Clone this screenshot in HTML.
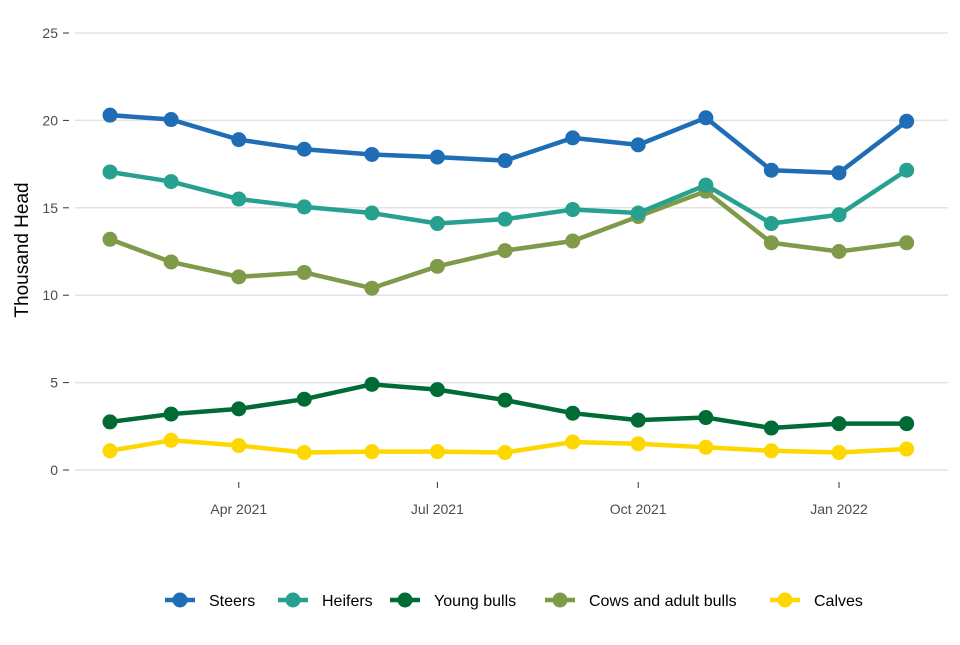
<!DOCTYPE html>
<html><head><meta charset="utf-8"><style>
body{margin:0;background:#fff;font-family:"Liberation Sans",sans-serif}
svg text{font-family:"Liberation Sans",sans-serif}
</style></head><body>
<svg id="chart" width="960" height="640">
<g id="grid"></g><g id="axes"></g><g id="series"></g><g id="legend"></g>
<text x="28" y="250" transform="rotate(-90 28 250)" text-anchor="middle" font-size="19" fill="#000">Thousand Head</text>
</svg>
<script>
const months=["2021-02-01","2021-03-01","2021-04-01","2021-05-01","2021-06-01","2021-07-01","2021-08-01","2021-09-01","2021-10-01","2021-11-01","2021-12-01","2022-01-01","2022-02-01"];
const steers=[20.3,20.05,18.9,18.35,18.05,17.9,17.7,19.0,18.6,20.15,17.15,17.0,19.95];
const heifers=[17.05,16.5,15.5,15.05,14.7,14.1,14.35,14.9,14.7,16.3,14.1,14.6,17.15];
const youngBulls=[2.75,3.2,3.5,4.05,4.9,4.6,4.0,3.25,2.85,3.0,2.4,2.65,2.65];
const cows=[13.2,11.9,11.05,11.3,10.4,11.65,12.55,13.1,14.5,15.95,13.0,12.5,13.0];
const calves=[1.1,1.7,1.4,1.0,1.05,1.05,1.0,1.6,1.5,1.3,1.1,1.0,1.2];
const yTicks=[0,5,10,15,20,25];
const xTickDates=["2021-04-01","2021-07-01","2021-10-01","2022-01-01"];
const xTickLabels=["Apr 2021","Jul 2021","Oct 2021","Jan 2022"];
const seriesNames=["Steers","Heifers","Young bulls","Cows and adult bulls","Calves"];
const NS="http://www.w3.org/2000/svg";
const t0=Date.parse("2021-02-01"),t1=Date.parse("2022-01-01");
function xs(d){return 110+(Date.parse(d)-t0)/(t1-t0)*729;}
function ys(v){return 470-v*17.48;}
function mk(tag,attrs,parent){const e=document.createElementNS(NS,tag);for(const k in attrs)e.setAttribute(k,attrs[k]);parent.appendChild(e);return e;}
const grid=document.getElementById('grid'),axes=document.getElementById('axes'),ser=document.getElementById('series'),leg=document.getElementById('legend');
yTicks.forEach(v=>{
 const l=mk('line',{x1:75,x2:948,y1:ys(v),y2:ys(v),stroke:'#e3e3e3','stroke-width':1.5},grid);
 
 
 const tk=mk('line',{x1:63,x2:69,y1:ys(v),y2:ys(v),stroke:'#333','stroke-width':1},axes);
 
 
 const t=mk('text',{x:58,y:ys(v)+5,'text-anchor':'end','font-size':14,fill:'#4d4d4d'},axes);
 t.textContent=v;
 
 
});
xTickDates.forEach((d,i)=>{
 const x=xs(d);
 const tk=mk('line',{x1:x,x2:x,y1:482,y2:488,stroke:'#333','stroke-width':1},axes);
 
 
 const t=mk('text',{x:x,y:514,'text-anchor':'middle','font-size':14,fill:'#4d4d4d'},axes);
 t.textContent=xTickLabels[i];
 
 
});
const data=[steers,heifers,youngBulls,cows,calves];
const colors=["#1f6db5","#26a08f","#006b35","#7f9a48","#ffd700"];
const order=[4,2,3,1,0];
order.forEach(si=>{
 const g=mk('g',{},ser);
 
 
 const pts=data[si].map((v,i)=>xs(months[i])+','+ys(v)).join(' ');
 const pl=mk('polyline',{points:pts,fill:'none',stroke:colors[si],'stroke-width':4.5,'stroke-linejoin':'round'},g);
 
 
 data[si].forEach((v,i)=>{
  const c=mk('circle',{cx:xs(months[i]),cy:ys(v),r:7.5,fill:colors[si]},g);
  
  
 });
});
const lx=[165,278,390,545,770];
seriesNames.forEach((n,i)=>{
 const g=mk('g',{},leg);
 
 
 mk('line',{x1:lx[i],x2:lx[i]+30,y1:600,y2:600,stroke:colors[i],'stroke-width':4.5},g);
 mk('circle',{cx:lx[i]+15,cy:600,r:7.5,fill:colors[i]},g);
 const t=mk('text',{x:lx[i]+44,y:606,'font-size':16,fill:'#000'},g);
 t.textContent=n;
});
</script>
</body></html>
